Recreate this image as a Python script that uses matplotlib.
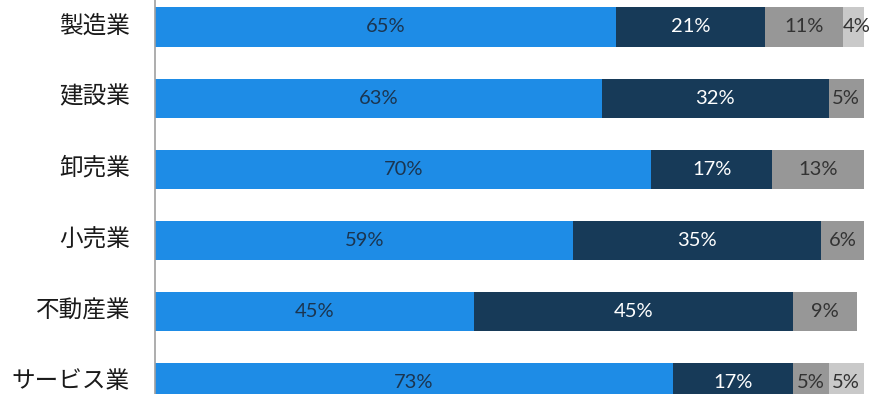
import matplotlib
matplotlib.use("Agg")
import matplotlib.pyplot as plt
import matplotlib.transforms as mtransforms
import numpy as np

plt.rcParams['font.family'] = ['Noto Sans CJK JP', 'DejaVu Sans']

categories = ['製造業', '建設業', '卸売業', '小売業', '不動産業', 'サービス業']
seg1 = [65, 63, 70, 59, 45, 73]
seg2 = [21, 32, 17, 35, 45, 17]
seg3 = [11, 5, 13, 6, 9, 5]
seg4 = [4, 0, 0, 0, 0, 5]

series = [seg1, seg2, seg3, seg4]
colors = ['#1E8CE6', '#173A58', '#979797', '#C9C9C9']
text_colors = ['#1B3550', '#FFFFFF', '#333333', '#333333']

fig = plt.figure(figsize=(8.77, 3.94), dpi=100)
ax = fig.add_axes([155 / 877, 0, 709 / 877, 1])

y = np.arange(len(categories))
left = np.zeros(len(categories))
for vals, col, tcol in zip(series, colors, text_colors):
    vals = np.array(vals, dtype=float)
    ax.barh(y, vals, left=left, height=0.55, color=col, edgecolor='none')
    for yi, (l, v) in enumerate(zip(left, vals)):
        if v > 0:
            ax.text(l + v / 2, yi, f'{int(v)}%', ha='center', va='center',
                    color=tcol, fontsize=14.5, family=['Lato', 'DejaVu Sans'])
    left += vals

ax.set_xlim(0, 100)
ax.set_ylim((394 - 27) / 71.2, -27 / 71.2)
ax.set_yticks(y)
ax.set_yticklabels(categories, fontsize=17, color='#1a1a1a')
ax.tick_params(axis='y', length=0, pad=18)
# lift category labels slightly above bar centres
shift = mtransforms.ScaledTranslation(0, 3.5 / 100, fig.dpi_scale_trans)
for lbl in ax.get_yticklabels():
    lbl.set_transform(lbl.get_transform() + shift)
ax.set_xticks([])
for s in ['top', 'right', 'bottom']:
    ax.spines[s].set_visible(False)
ax.spines['left'].set_color('#A0A0A0')
ax.spines['left'].set_linewidth(1.2)

fig.savefig('out.png', dpi=100)
